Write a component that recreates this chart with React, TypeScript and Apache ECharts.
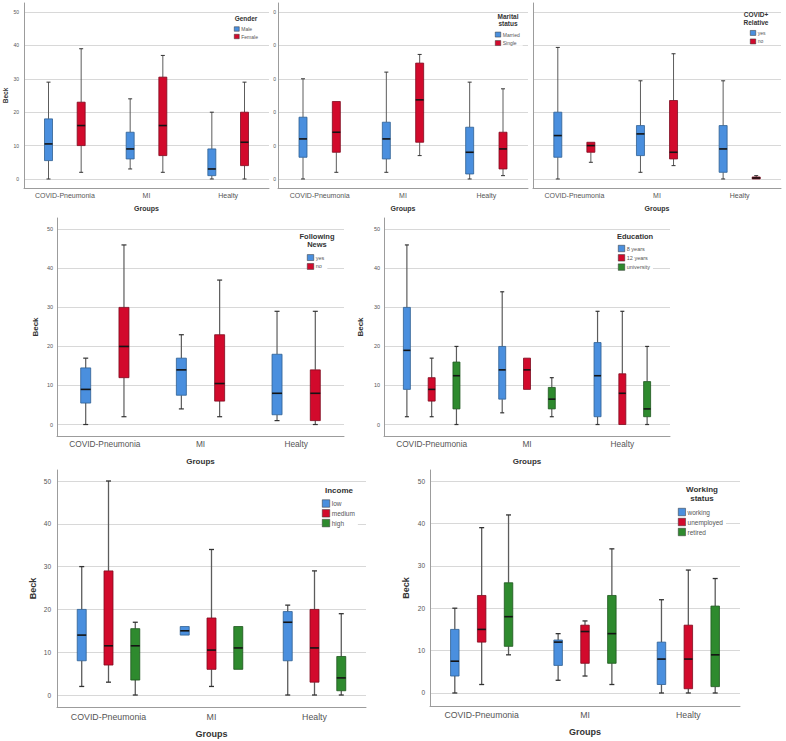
import React, { useEffect, useRef } from 'react';
import * as echarts from 'echarts';

const groups = ['COVID-Pneumonia', 'MI', 'Healty'];

// Each row: [min, Q1, median, Q3, max] for COVID-Pneumonia, MI, Healty
const genderMale = [[0, 5.5, 10.5, 18, 29], [3, 6, 9, 14, 24], [0, 1, 3, 9, 20]];
const genderFemale = [[2, 10, 16, 23, 39], [2, 7, 16, 30.5, 37], [0, 4, 11, 20, 29]];

const maritalMarried = [[0, 6.5, 12, 18.5, 30], [2, 6, 12, 17, 32], [0, 1.5, 8, 15.5, 29]];
const maritalSingle = [[2, 8, 14, 23.2, 23.2], [7, 11, 23.7, 34.7, 37.3], [1, 3, 9, 14, 27]];

const relativeYes = [[0, 6.5, 13, 20, 39.4], [2, 7, 13.5, 16, 29.4], [0, 2, 9, 16, 29.4]];
const relativeNo = [[5, 8, 10, 11, 11], [4, 6, 8, 23.5, 37.5], [0, 0, 0.3, 0.6, 1]];

const newsYes = [[0, 5.5, 9, 14.5, 17], [4, 7.5, 14, 17, 23], [1, 2.5, 8, 18, 29]];
const newsNo = [[2, 12, 20, 30, 46], [2, 6, 10.5, 23, 37], [0, 1, 8, 14, 29]];

const edu8 = [[2, 9, 19, 30, 46], [3, 6.5, 14, 20, 34], [0, 2, 12.5, 21, 29]];
const edu12 = [[2, 6, 9, 12, 17], [9, 9, 14, 17, 17], [0, 0, 8, 13, 29]];
const eduUniv = [[0, 4, 12.5, 16, 20], [2, 4, 6.5, 9.5, 12], [0, 2, 4, 11, 20]];

const incomeLow = [[2, 8, 14, 20, 30], [14, 14, 15, 16, 16], [0, 8, 17, 19.5, 21]];
const incomeMedium = [[3, 7, 11.5, 29, 50], [2, 6, 10.5, 18, 34], [0, 3, 11, 20, 29]];
const incomeHigh = [[0, 3.5, 11.5, 15.5, 17], [6, 6, 11, 16, 16], [0, 1, 4, 9, 19]];

const workWorking = [[0, 4, 7.5, 15, 20], [3, 6.5, 12, 12.5, 14], [0, 2, 8, 12, 22]];
const workUnemployed = [[2, 12, 15, 23, 39], [4, 7, 14.5, 16, 17], [0, 1, 8, 16, 29]];
const workRetired = [[9, 11, 18, 26, 42], [2, 7, 14, 23, 34], [0, 1.5, 9, 20.5, 27]];

const BLUE = '#4A8FDE';
const RED = '#D20A2C';
const GREEN = '#2E8A2E';
const STROKE: Record<string, string> = { [BLUE]: '#2F5F92', [RED]: '#7E0A1E', [GREEN]: '#1D561D' };
const FONT = '"Liberation Sans", Arial, sans-serif';

type Sub = { name: string; color: string; stats: number[][] };
type Panel = {
  left: number; top: number; width: number; height: number;
  yMin: number; yMax: number;
  boxW: number; capW: number; whiskerW: number;
  catFont: number; catMargin: number; groupsGap: number; nameFont: number;
  yFont: number; yMargin: number; yLabels: 'normal' | 'zero' | 'none';
  beck: boolean; beckGap: number; beckFont: number;
  title: string; titleX: number; titleY: number; titleFont: number; titleLH: number;
  legX: number; legY: number; iconW: number; iconH: number; legGap: number; legFont: number;
  subs: Sub[];
};

const panels: Panel[] = [
  {
    left: 24, top: 3, width: 245, height: 185, yMin: -2.7, yMax: 52.7,
    boxW: 8, capW: 4, whiskerW: 1, catFont: 7, catMargin: 4, groupsGap: 17, nameFont: 7,
    yFont: 5, yMargin: 5, yLabels: 'normal', beck: true, beckGap: 15, beckFont: 6.5,
    title: 'Gender', titleX: 246, titleY: 14.5, titleFont: 6.5, titleLH: 7.5,
    legX: 234, legY: 26.5, iconW: 5, iconH: 4.5, legGap: 2.5, legFont: 5,
    subs: [{ name: 'Male', color: BLUE, stats: genderMale }, { name: 'Female', color: RED, stats: genderFemale }],
  },
  {
    left: 278, top: 3, width: 250, height: 185, yMin: -2.7, yMax: 52.7,
    boxW: 8, capW: 4, whiskerW: 1, catFont: 7, catMargin: 4, groupsGap: 17, nameFont: 7,
    yFont: 5, yMargin: 2, yLabels: 'zero', beck: false, beckGap: 15, beckFont: 6.5,
    title: 'Marital\nstatus', titleX: 508, titleY: 12.5, titleFont: 6.5, titleLH: 7.4,
    legX: 495, legY: 31.8, iconW: 5.5, iconH: 5, legGap: 3, legFont: 5,
    subs: [{ name: 'Married', color: BLUE, stats: maritalMarried }, { name: 'Single', color: RED, stats: maritalSingle }],
  },
  {
    left: 533, top: 3, width: 248, height: 185, yMin: -2.7, yMax: 52.7,
    boxW: 8, capW: 4, whiskerW: 1, catFont: 7, catMargin: 4, groupsGap: 17, nameFont: 7,
    yFont: 5, yMargin: 2, yLabels: 'none', beck: false, beckGap: 15, beckFont: 6.5,
    title: 'COVID+\nRelative', titleX: 756, titleY: 11, titleFont: 6.5, titleLH: 7.6,
    legX: 750, legY: 30.2, iconW: 5.5, iconH: 5, legGap: 3, legFont: 5,
    subs: [{ name: 'yes', color: BLUE, stats: relativeYes }, { name: 'no', color: RED, stats: relativeNo }],
  },
  {
    left: 57, top: 218, width: 287, height: 218, yMin: -2.94, yMax: 52.9,
    boxW: 10, capW: 5, whiskerW: 1.2, catFont: 8.3, catMargin: 4, groupsGap: 21, nameFont: 8,
    yFont: 5.5, yMargin: 4, yLabels: 'normal', beck: true, beckGap: 18, beckFont: 8,
    title: 'Following\nNews', titleX: 317, titleY: 232.3, titleFont: 7.5, titleLH: 8.4,
    legX: 307, legY: 254.3, iconW: 6.5, iconH: 6, legGap: 2.4, legFont: 5.5,
    subs: [{ name: 'yes', color: BLUE, stats: newsYes }, { name: 'no', color: RED, stats: newsNo }],
  },
  {
    left: 384, top: 218, width: 286, height: 218, yMin: -2.94, yMax: 52.9,
    boxW: 7, capW: 4, whiskerW: 1.2, catFont: 8.3, catMargin: 4, groupsGap: 21, nameFont: 8,
    yFont: 5.5, yMargin: 4, yLabels: 'normal', beck: true, beckGap: 20, beckFont: 8,
    title: 'Education', titleX: 635, titleY: 232, titleFont: 7.5, titleLH: 8.4,
    legX: 618, legY: 245, iconW: 6.5, iconH: 6.5, legGap: 2.3, legFont: 5.5,
    subs: [
      { name: '8 years', color: BLUE, stats: edu8 },
      { name: '12 years', color: RED, stats: edu12 },
      { name: 'university', color: GREEN, stats: eduUniv },
    ],
  },
  {
    left: 57, top: 470, width: 309, height: 237, yMin: -2.8, yMax: 52.57,
    boxW: 9, capW: 5, whiskerW: 1.3, catFont: 8.8, catMargin: 5.5, groupsGap: 22, nameFont: 9,
    yFont: 6.5, yMargin: 6, yLabels: 'normal', beck: true, beckGap: 20, beckFont: 9,
    title: 'Income', titleX: 339, titleY: 485.5, titleFont: 8, titleLH: 9,
    legX: 322, legY: 499.5, iconW: 7.5, iconH: 7.5, legGap: 1.8, legFont: 6.5,
    subs: [
      { name: 'low', color: BLUE, stats: incomeLow },
      { name: 'medium', color: RED, stats: incomeMedium },
      { name: 'high', color: GREEN, stats: incomeHigh },
    ],
  },
  {
    left: 430, top: 470, width: 310, height: 236, yMin: -3.07, yMax: 52.6,
    boxW: 8.5, capW: 5, whiskerW: 1.3, catFont: 8.7, catMargin: 4, groupsGap: 21, nameFont: 9,
    yFont: 6.5, yMargin: 5, yLabels: 'normal', beck: true, beckGap: 20, beckFont: 9,
    title: 'Working\nstatus', titleX: 702, titleY: 485, titleFont: 8, titleLH: 9,
    legX: 678, legY: 508, iconW: 7.3, iconH: 7.5, legGap: 2, legFont: 6.5,
    subs: [
      { name: 'working', color: BLUE, stats: workWorking },
      { name: 'unemployed', color: RED, stats: workUnemployed },
      { name: 'retired', color: GREEN, stats: workRetired },
    ],
  },
];

function makeRender(boxW: number, capW: number, whiskerW: number, fill: string, stroke: string) {
  return (_params: any, api: any) => {
    const x = api.value(0);
    const vMin = api.value(1), vQ1 = api.value(2), vMed = api.value(3), vQ3 = api.value(4), vMax = api.value(5);
    const pMin = api.coord([x, vMin]);
    const pQ1 = api.coord([x, vQ1]);
    const pMed = api.coord([x, vMed]);
    const pQ3 = api.coord([x, vQ3]);
    const pMax = api.coord([x, vMax]);
    const cx = pMed[0];
    const wStyle = { stroke: '#5c5c5c', lineWidth: whiskerW };
    const children: any[] = [];
    if (vMax > vQ3) {
      children.push({ type: 'line', shape: { x1: cx, y1: pQ3[1], x2: cx, y2: pMax[1] }, style: wStyle });
      children.push({ type: 'line', shape: { x1: cx - capW / 2, y1: pMax[1], x2: cx + capW / 2, y2: pMax[1] }, style: { ...wStyle, stroke: '#333' } });
    }
    if (vMin < vQ1) {
      children.push({ type: 'line', shape: { x1: cx, y1: pQ1[1], x2: cx, y2: pMin[1] }, style: wStyle });
      children.push({ type: 'line', shape: { x1: cx - capW / 2, y1: pMin[1], x2: cx + capW / 2, y2: pMin[1] }, style: { ...wStyle, stroke: '#333' } });
    }
    const h = Math.max(pQ1[1] - pQ3[1], 1.5);
    children.push({
      type: 'rect',
      shape: { x: cx - boxW / 2, y: pQ3[1] - (h - (pQ1[1] - pQ3[1])) / 2, width: boxW, height: h },
      style: { fill, stroke, lineWidth: 0.8 },
    });
    children.push({
      type: 'line',
      shape: { x1: cx - boxW / 2, y1: pMed[1], x2: cx + boxW / 2, y2: pMed[1] },
      style: { stroke: '#141414', lineWidth: 1.6 },
    });
    return { type: 'group', children };
  };
}

function buildOption() {
  const option: any = {
    animation: false,
    backgroundColor: '#ffffff',
    textStyle: { fontFamily: FONT },
    grid: [], xAxis: [], yAxis: [], series: [], legend: [], title: [],
  };
  panels.forEach((p, i) => {
    option.grid.push({ left: p.left, top: p.top, width: p.width, height: p.height, containLabel: false });
    option.xAxis.push({
      type: 'category', gridIndex: i, data: groups, position: 'bottom', boundaryGap: true,
      axisLine: { show: true, onZero: false, lineStyle: { color: '#9c9c9c', width: 1 } },
      axisTick: { show: false },
      splitLine: { show: false },
      axisLabel: { fontSize: p.catFont, color: '#555', margin: p.catMargin, fontFamily: FONT },
      name: 'Groups', nameLocation: 'middle', nameGap: p.groupsGap,
      nameTextStyle: { fontWeight: 'bold', fontSize: p.nameFont, color: '#333', fontFamily: FONT },
    });
    const valIdx = option.xAxis.length;
    option.xAxis.push({
      type: 'value', gridIndex: i, min: -0.5, max: 2.5, show: false, position: 'bottom',
      axisLine: { onZero: false }, splitLine: { show: false },
    });
    option.yAxis.push({
      type: 'value', gridIndex: i, min: p.yMin, max: p.yMax, minInterval: 10, maxInterval: 10,
      position: 'left',
      axisLine: { show: true, onZero: false, lineStyle: { color: '#9c9c9c', width: 1 } },
      axisTick: { show: false },
      splitLine: { show: true, showMinLine: false, showMaxLine: false, lineStyle: { color: '#d8d8d8', width: 1 } },
      axisLabel: {
        show: p.yLabels !== 'none',
        showMinLabel: false, showMaxLabel: false,
        fontSize: p.yFont, color: '#555', margin: p.yMargin, fontFamily: FONT,
        formatter: (v: number) => {
          if (Math.abs(v % 10) > 1e-6) return '';
          return p.yLabels === 'zero' ? '0' : String(Math.round(v) || 0);
        },
      },
      name: p.beck ? 'Beck' : '', nameLocation: 'middle', nameGap: p.beckGap,
      nameTextStyle: { fontWeight: 'bold', fontSize: p.beckFont, color: '#333', fontFamily: FONT },
    });
    const n = p.subs.length;
    const step = n === 2 ? 0.4 : 0.26;
    p.subs.forEach((s, k) => {
      const off = (k - (n - 1) / 2) * step;
      option.series.push({
        type: 'custom', name: s.name, xAxisIndex: valIdx, yAxisIndex: i, clip: false, z: 3,
        itemStyle: { color: s.color },
        encode: { x: 0, y: [1, 2, 3, 4, 5] },
        data: s.stats.map((st, g) => [g + off, ...st]),
        renderItem: makeRender(p.boxW, p.capW, p.whiskerW, s.color, STROKE[s.color]),
      });
    });
    option.legend.push({
      left: p.legX, top: p.legY, orient: 'vertical', padding: [0, 3, 0, 0],
      backgroundColor: '#ffffff',
      itemWidth: p.iconW, itemHeight: p.iconH, itemGap: p.legGap,
      icon: 'rect', selectedMode: false,
      itemStyle: { borderColor: '#333', borderWidth: 0.5 },
      textStyle: { fontSize: p.legFont, color: '#555', padding: [0, 0, 0, -3], fontFamily: FONT },
      data: p.subs.map((s) => s.name),
    });
    option.title.push({
      text: p.title, left: p.titleX, top: p.titleY, textAlign: 'center', padding: 0,
      textStyle: { fontSize: p.titleFont, fontWeight: 'bold', color: '#333', lineHeight: p.titleLH, fontFamily: FONT },
    });
  });
  return option;
}

export default function App() {
  const ref = useRef<HTMLDivElement>(null);
  useEffect(() => {
    if (!ref.current) return;
    const chart = echarts.init(ref.current, undefined, { renderer: 'svg' });
    chart.setOption(buildOption());
    return () => chart.dispose();
  }, []);
  return (
    <div
      ref={ref}
      style={{ position: 'absolute', left: 0, top: 0, width: 786, height: 741, background: '#fff' }}
    />
  );
}
